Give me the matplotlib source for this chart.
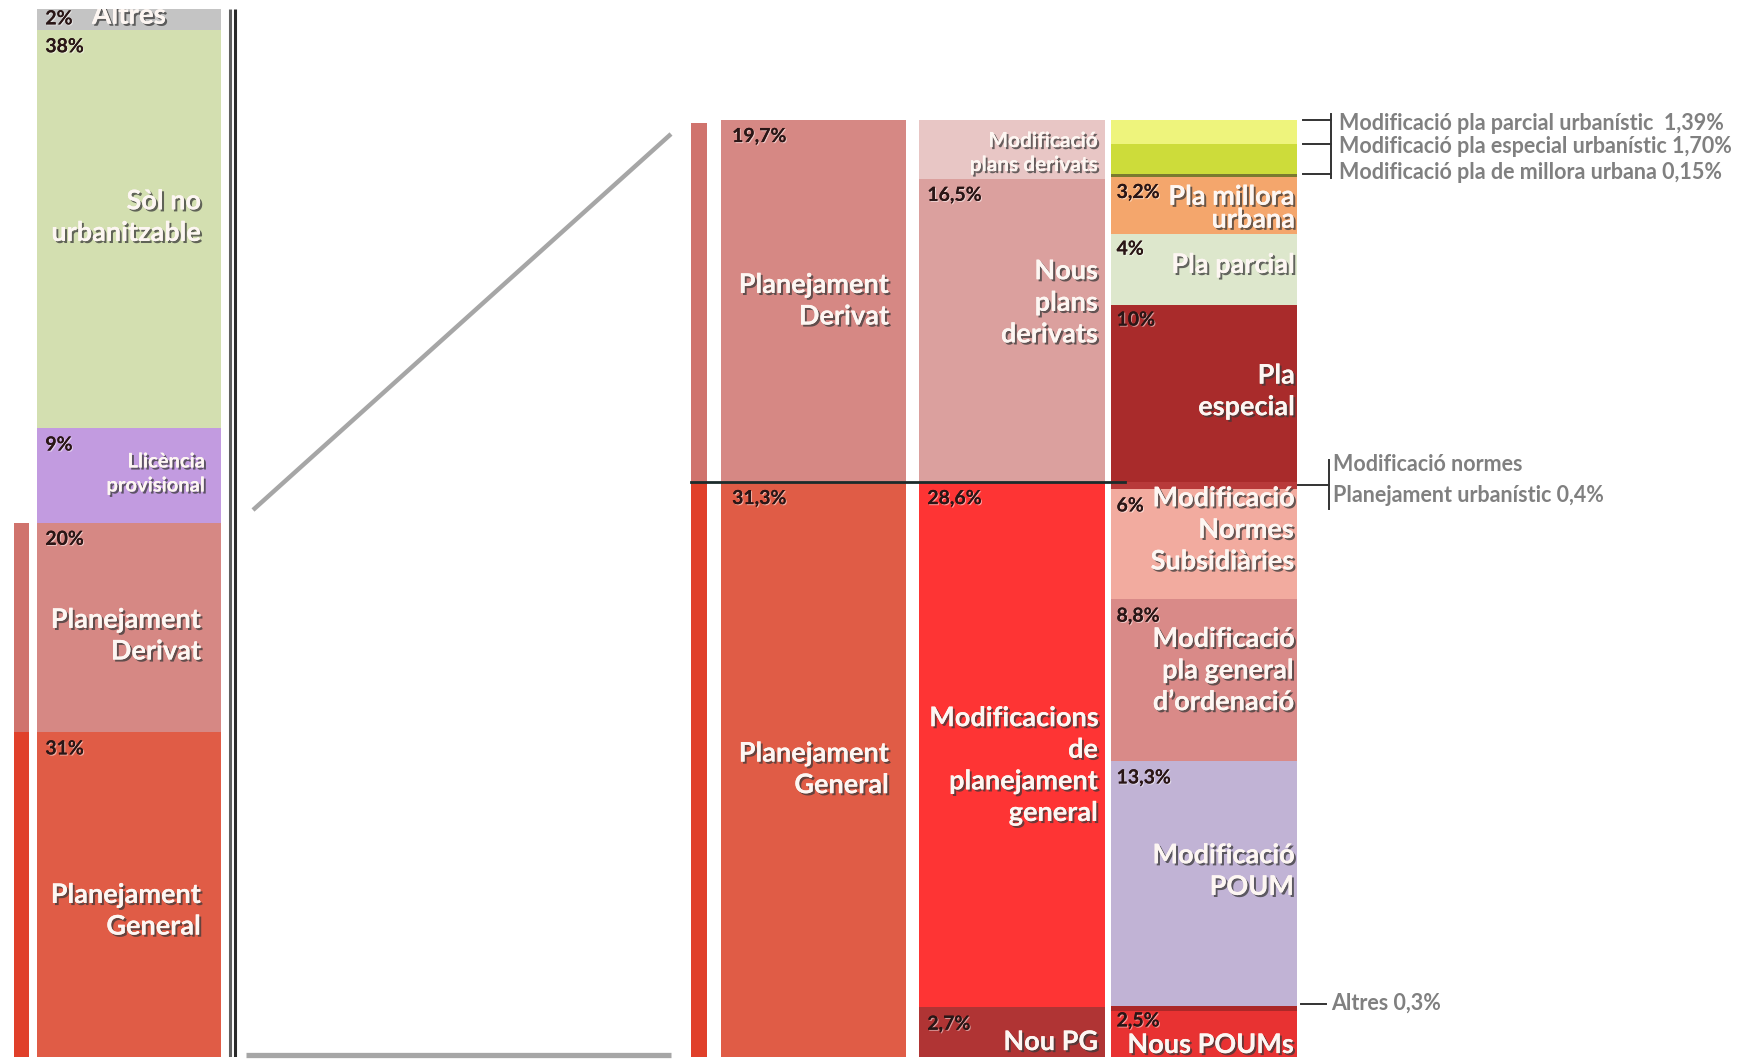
import matplotlib
matplotlib.use('Agg')
import matplotlib.pyplot as plt
import matplotlib.patheffects as pe
import numpy as np

plt.rcParams['font.family'] = ['Lato', 'DejaVu Sans']

# ---- data (stacks listed bottom to top) ----
left_labels = ['Planejament\nGeneral', 'Planejament\nDerivat', 'Llicència\nprovisional', 'Sòl no\nurbanitzable', 'Altres']
left_pcts = ['31%', '20%', '9%', '38%', '2%']
left_vals = [31, 20, 9, 38, 2]

col1_labels = ['Planejament\nGeneral', 'Planejament\nDerivat']
col1_pcts = ['31,3%', '19,7%']
col1_vals = [31.3, 19.7]

col2_labels = ['Nou PG', 'Modificacions\nde\nplanejament\ngeneral', 'Nous\nplans\nderivats', 'Modificació\nplans derivats']
col2_pcts = ['2,7%', '28,6%', '16,5%', '3,3%']
col2_vals = [2.7, 28.6, 16.5, 3.3]

# column 3, planejament general part
col3g_labels = ['Nous POUMs', 'Altres 0,3%', 'Modificació\nPOUM', 'Modificació\npla general\nd\u2019ordenació',
                'Modificació\nNormes\nSubsidiàries', 'Modificació normes\nPlanejament urbanístic 0,4%']
col3g_pcts = ['2,5%', '', '13,3%', '8,8%', '6%', '']
col3g_vals = [2.5, 0.3, 13.3, 8.8, 6, 0.4]

# column 3, planejament derivat part
col3d_labels = ['Pla\nespecial', 'Pla parcial', 'Pla millora\nurbana', 'Modificació pla de millora urbana 0,15%',
                'Modificació pla especial urbanístic 1,70%', 'Modificació pla parcial urbanístic  1,39%']
col3d_pcts = ['10%', '4%', '3,2%', '', '', '']
col3d_vals = [10, 4, 3.2, 0.15, 1.70, 1.39]
derivat_total = 19.7

# ---- styles ----
left_colors = ['#e05c46', '#d68884', '#c29be0', '#d3dfb0', '#c4c4c4']
left_frac = [0.45, 0.46, 0.52, 0.53, 0.68]
left_size = [19.5, 19.5, 14.5, 19.5, 20]
left_inset = [20, 20, 16, 20, 55]
col1_colors = ['#e05c46', '#d68884']
col1_frac = [0.5, 0.5]
col2_colors = ['#b03434', '#fe3434', '#dba09e', '#e8c6c5']
col2_frac = [0.3, 0.46, 0.59, 0.42]
col2_size = [19.5, 19.5, 19.5, 15]
col3g_colors = ['#e83232', '#ab2828', '#c1b3d5', '#d98a88', '#f2ab9f', '#b83a3a']
col3g_frac = [0.26, None, 0.55, 0.56, 0.63, None]
col3d_colors = ['#a92b2b', '#dde7cc', '#f4a66c', '#7a7a30', '#cddc3a', '#eef47c']
col3d_frac = [0.51, 0.56, 0.45, None, None, None]

white = '#fdf6f2'
shadow = [pe.withSimplePatchShadow(offset=(1.5, -1.5), shadow_rgbFace='#3a3a3a', alpha=0.75), pe.Normal()]
pct_fx = [pe.withSimplePatchShadow(offset=(0.8, -0.8), shadow_rgbFace='#ffffff', alpha=0.5), pe.Normal()]
ann_color = '#808080'
MAIN_LS = 1.38

W, H = 1754, 1061
fig = plt.figure(figsize=(W / 100, H / 100), dpi=100)
fig.patch.set_facecolor('white')


def frac_pos(top_px, bot_px):
    return [0, (H - bot_px) / H, 1, (bot_px - top_px) / H]


ax_full = fig.add_axes([0, 0, 1, 1])
ax_full.set_xlim(0, W)
ax_full.set_ylim(H, 0)
ax_full.axis('off')

ax_l = fig.add_axes(frac_pos(9, 1057))
ax_l.set_xlim(0, W)
ax_l.set_ylim(0, 100)
ax_l.axis('off')

ax_r = fig.add_axes(frac_pos(119.7, 1057))
ax_r.set_xlim(0, W)
ax_r.set_ylim(0, 51)
ax_r.axis('off')


def stack(ax, x0, x1, vals, colors, labels, pcts, fracs, sizes=None, insets=18, pct_dx=6):
    bottoms = np.concatenate([[0], np.cumsum(vals)[:-1]])
    ax.bar(x0, vals, bottom=bottoms, width=x1 - x0, align='edge', color=colors, linewidth=0)
    for i, (b, v) in enumerate(zip(bottoms, vals)):
        if pcts[i]:
            dy = -1 if v < 2.6 else -6
            ax.annotate(pcts[i], xy=(x0, b + v), xytext=(pct_dx, dy), textcoords='offset points',
                        ha='left', va='top', fontsize=14, fontweight='bold', color='#2a1616',
                        path_effects=pct_fx)
        if fracs[i] is not None:
            fs = sizes[i] if sizes else 19.5
            ins = insets[i] if isinstance(insets, list) else insets
            ax.text(x1 - ins, b + fracs[i] * v, labels[i], ha='right', va='center', ma='right',
                    fontsize=fs, fontweight='bold', color=white,
                    linespacing=MAIN_LS if fs > 16 else 1.25,
                    path_effects=shadow, clip_on=True)
    return bottoms


# ---- left bar ----
lb = stack(ax_l, 37, 221, left_vals, left_colors, left_labels, left_pcts, left_frac, left_size,
           insets=left_inset)
ax_l.bar(14, left_vals[0], bottom=0, width=15, align='edge', color='#e0402a', linewidth=0)
ax_l.bar(14, left_vals[1], bottom=left_vals[0], width=15, align='edge', color='#d0736d', linewidth=0)
ax_l.plot([230, 230], [0, 100], color='#606060', lw=2.2, solid_capstyle='butt')
ax_l.plot([235, 235], [0, 100], color='#2a2a2a', lw=2.2, solid_capstyle='butt')

# ---- right group ----
gen_total = col1_vals[0]
ax_r.bar(691, col1_vals[0], bottom=0, width=16, align='edge', color='#e0402a', linewidth=0)
ax_r.bar(691, col1_vals[1] - 0.2, bottom=col1_vals[0], width=16, align='edge', color='#d0736d', linewidth=0)

stack(ax_r, 721, 906, col1_vals, col1_colors, col1_labels, col1_pcts, col1_frac, insets=17, pct_dx=8)
stack(ax_r, 919, 1105, col2_vals, col2_colors, col2_labels, col2_pcts, col2_frac, col2_size, insets=7)

gb = stack(ax_r, 1111, 1297, col3g_vals, col3g_colors, col3g_labels, col3g_pcts, col3g_frac,
           insets=3, pct_dx=4)

# derivat part of column 3 stacked on top, normalised to its total
d_vals = np.array(col3d_vals) * derivat_total / sum(col3d_vals)
d_bot = gen_total + np.concatenate([[0], np.cumsum(d_vals)[:-1]])
ax_r.bar(1111, d_vals, bottom=d_bot, width=186, align='edge', color=col3d_colors, linewidth=0)
for i, (b, v) in enumerate(zip(d_bot, d_vals)):
    if col3d_pcts[i]:
        ax_r.annotate(col3d_pcts[i], xy=(1111, b + v), xytext=(4, -5), textcoords='offset points',
                      ha='left', va='top', fontsize=14, fontweight='bold', color='#2a1616',
                      path_effects=pct_fx)
    if col3d_frac[i] is not None:
        ax_r.text(1295, b + col3d_frac[i] * v, col3d_labels[i], ha='right', va='center', ma='right',
                  fontsize=19.5, fontweight='bold', color=white,
                  linespacing=0.95 if i == 2 else MAIN_LS, path_effects=shadow)

# separator between general and derivat
ax_r.plot([691, 1125], [gen_total, gen_total], color='#1b2b2b', lw=2, clip_on=False)

# ---- call-outs ----
tops = d_bot[3:] + d_vals[3:]
text_y = [tops[0] + 0.1, tops[1] - 0.1, tops[2] - 0.2]
for i, t, ty in zip(range(3, 6), tops, text_y):
    ax_r.plot([1303, 1331], [t, t], color='#333333', lw=1.4, clip_on=False)
    ax_r.text(1339, ty, col3d_labels[i], ha='left', va='center', fontsize=15.5,
              fontweight='bold', color=ann_color, clip_on=False)
ax_r.plot([1331, 1331], [tops.min() - 0.2, 51.3], color='#333333', lw=1.4, clip_on=False)

nb = gb[5] + col3g_vals[5] / 2
ax_r.plot([1298, 1329], [nb, nb], color='#333333', lw=1.4, clip_on=False)
ax_r.plot([1329, 1329], [nb - 1.3, nb + 1.4], color='#333333', lw=1.4, clip_on=False)
ax_r.text(1333, nb + 0.3, col3g_labels[5], ha='left', va='center', fontsize=15.5, fontweight='bold',
          color=ann_color, linespacing=1.55)

ab = gb[1] + col3g_vals[1] / 2 + 0.25
ax_r.plot([1301, 1326], [ab, ab], color='#333333', lw=1.4, clip_on=False)
ax_r.text(1331, ab, col3g_labels[1], ha='left', va='center', fontsize=15.5, fontweight='bold',
          color=ann_color)

# ---- zoom connector ----
ax_full.plot([253, 671], [510, 134], color='#a6a6a6', lw=3.2, solid_capstyle='butt')
ax_full.plot([246, 671], [1055, 1055], color='#a6a6a6', lw=3.8, solid_capstyle='butt')

fig.savefig('out.png', dpi=100, facecolor='white')
